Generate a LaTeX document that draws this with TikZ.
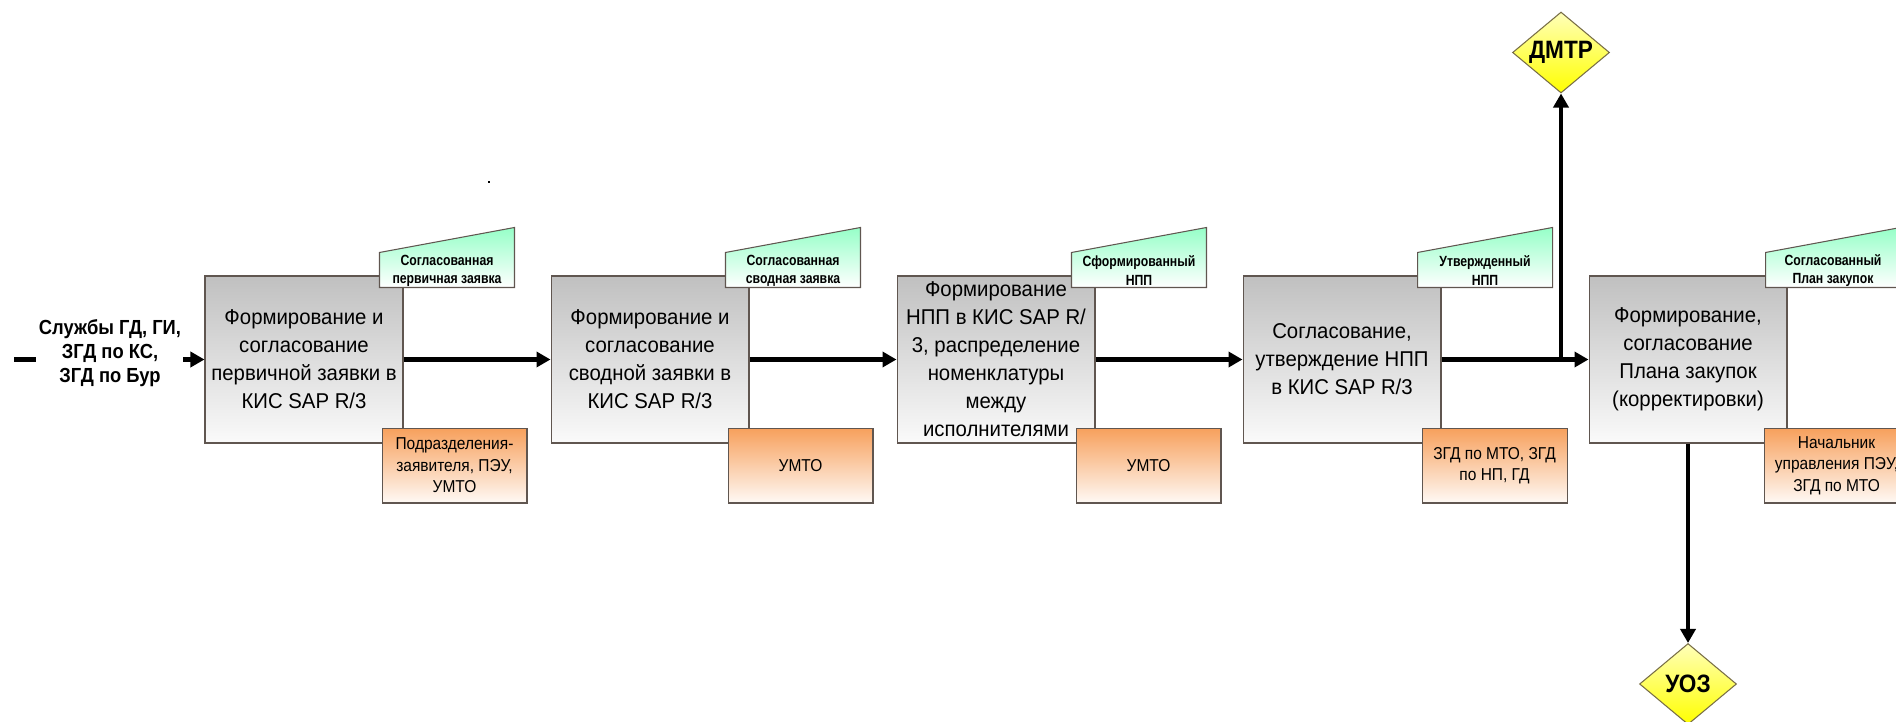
\documentclass[tikz,border=0pt]{standalone}
\usepackage{fontspec}
\setmainfont{Liberation Sans}[FakeStretch=0.95]
\newfontfamily\narrowfont{Liberation Sans}[FakeStretch=0.9]
\newfontfamily\tabfont{Liberation Sans}[FakeStretch=0.83]
\usepackage{tikz}
\usetikzlibrary{shapes.geometric,arrows.meta,positioning,calc}
\usepackage{xcolor}

\definecolor{boxline}{RGB}{96,86,80}
\definecolor{boxtop}{RGB}{192,192,192}
\definecolor{boxbot}{RGB}{250,250,250}
\definecolor{mint}{RGB}{150,255,200}
\definecolor{peach}{RGB}{247,160,92}
\definecolor{gateline}{RGB}{120,110,70}
\definecolor{lemon}{RGB}{255,255,0}
\definecolor{lemonlight}{RGB}{255,255,185}

\begin{document}
\begin{tikzpicture}[x=0.02cm, y=-0.02cm,
        proc/.style={draw=boxline, line width=0.6pt, top color=boxtop, bottom color=boxbot,
            minimum width=3.96cm, minimum height=3.34cm, inner sep=0pt, align=center,
            font=\fontsize{12.2}{15.9}\selectfont},
        tab/.style={draw=boxline, line width=0.6pt, top color=mint, bottom color=white},
        tabtext/.style={inner sep=0pt, align=center, font=\tabfont\bfseries\fontsize{8.4}{10.3}\selectfont},
        role/.style={draw=boxline, line width=0.6pt, top color=peach, bottom color=white!94!peach,
            minimum width=2.9cm, minimum height=1.5cm, inner sep=1pt, align=center, anchor=north west,
            font=\narrowfont\fontsize{9.8}{12.3}\selectfont},
        gate/.style={diamond, shape aspect=1.2, draw=gateline, line width=0.6pt, top color=lemonlight,
            bottom color=lemon, minimum width=1.94cm, minimum height=1.62cm, inner sep=0pt,
            font=\narrowfont\bfseries\fontsize{14.3}{17}\selectfont},
        source/.style={align=center, inner sep=1pt, font=\narrowfont\bfseries\fontsize{11.6}{13.7}\selectfont},
        flow/.style={line width=2.3pt, -{Triangle[length=0.28cm,width=0.3cm]}}]
    \useasboundingbox (0,0) rectangle (1896,722);
    \clip (0,0) rectangle (1896,722);

    % source of the requests
    \node[source] (src) at (110,353) {Службы ГД, ГИ,\\ЗГД по КС,\\ЗГД по Бур};
    \coordinate (tail) at (14,359.5);
    \coordinate (tailend) at (36,359.5);
    \draw[line width=2.3pt] (tail) -- (tailend);

    % stage 1
    \node[proc] (b1) at (304,359.5) {Формирование и\\согласование\\первичной заявки в\\КИС SAP R/3};
    \draw[tab] ([shift={(-24,12)}]b1.north east) -- ++(0,-35) -- ++(135,-25) -- ++(0,60) -- cycle;
    \node[tabtext] (t1) at ([shift={(43.5,-5)}]b1.north east) {Согласованная\\первичная заявка};
    \node[role] (r1) at ([shift={(-22,-16)}]b1.south east) {Подразделения-\\заявителя, ПЭУ,\\УМТО};

    % stage 2
    \node[proc] (b2) at (650,359.5) {Формирование и\\согласование\\сводной заявки в\\КИС SAP R/3};
    \draw[tab] ([shift={(-24,12)}]b2.north east) -- ++(0,-35) -- ++(135,-25) -- ++(0,60) -- cycle;
    \node[tabtext] (t2) at ([shift={(43.5,-5)}]b2.north east) {Согласованная\\сводная заявка};
    \node[role] (r2) at ([shift={(-22,-16)}]b2.south east) {УМТО};

    % stage 3
    \node[proc] (b3) at (996,359.5) {Формирование\\НПП в КИС SAP R/\\3, распределение\\номенклатуры\\между\\исполнителями};
    \draw[tab] ([shift={(-24,12)}]b3.north east) -- ++(0,-35) -- ++(135,-25) -- ++(0,60) -- cycle;
    \node[tabtext] (t3) at ([shift={(43.5,-5)}]b3.north east) {Сформированный\\НПП};
    \node[role] (r3) at ([shift={(-20,-16)}]b3.south east) {УМТО};

    % stage 4
    \node[proc] (b4) at (1342,359.5) {Согласование,\\утверждение НПП\\в КИС SAP R/3};
    \draw[tab] ([shift={(-24,12)}]b4.north east) -- ++(0,-35) -- ++(135,-25) -- ++(0,60) -- cycle;
    \node[tabtext] (t4) at ([shift={(43.5,-5)}]b4.north east) {Утвержденный\\НПП};
    \node[role] (r4) at ([shift={(-20,-16)}]b4.south east) {ЗГД по МТО, ЗГД\\по НП, ГД};

    % stage 5
    \node[proc] (b5) at (1688,359.5) {Формирование,\\согласование\\Плана закупок\\(корректировки)};
    \draw[tab] ([shift={(-22,12)}]b5.north east) -- ++(0,-35) -- ++(135,-25) -- ++(0,60) -- cycle;
    \node[tabtext] (t5) at ([shift={(45.5,-5)}]b5.north east) {Согласованный\\План закупок};
    \node[role] (r5) at ([shift={(-24,-16)}]b5.south east) {Начальник\\управления ПЭУ,\\ЗГД по МТО};

    % outputs
    \node[gate] (dmtr) at (1561,52.5) {ДМТР};
    \node[gate] (uoz) at (1688,684) {УОЗ};

    % connectors
    \draw[flow] (src.east |- b1.west) -- (b1.west);
    \draw[flow] (b1) -- (b2);
    \draw[flow] (b2) -- (b3);
    \draw[flow] (b3) -- (b4);
    \draw[flow] (b4) -- (b5);
    \coordinate (split) at (dmtr |- b4.east);
    \draw[flow] (split) -- (dmtr);
    \draw[flow] (b5) -- (uoz);

    \fill (487.5,181.5) rectangle ++(2,2);
\end{tikzpicture}
\end{document}
